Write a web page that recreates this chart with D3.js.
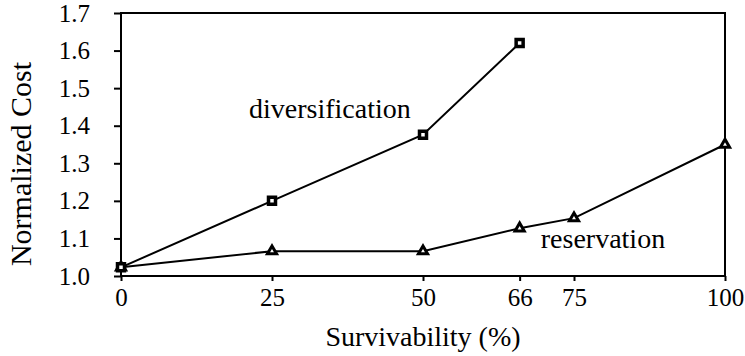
<!DOCTYPE html>
<html>
<head>
<meta charset="utf-8">
<script src="https://cdn.jsdelivr.net/npm/d3@7"></script>
<style>
  body { margin: 0; background: #fff; }
</style>
</head>
<body>
<svg width="745" height="356"></svg>
<script>
const width = 745;
const height = 356;
const margin = { top: 13, right: 20, bottom: 80, left: 121 };

// data
const survivability = [0, 25, 50, 66, 75, 100];
const diversificationX = [0, 25, 50, 66];
const diversificationY = [1.023, 1.2, 1.376, 1.62];
const reservationX = [0, 25, 50, 66, 75, 100];
const reservationY = [1.023, 1.066, 1.066, 1.127, 1.154, 1.35];
const yTicks = [1.0, 1.1, 1.2, 1.3, 1.4, 1.5, 1.6, 1.7];

const font = "Liberation Serif, serif";

const svg = d3.select("svg").attr("font-family", font);

let x = d3
  .scaleLinear()
  .domain([0, 100])
  .range([margin.left, width - margin.right]);

let y = d3
  .scaleLinear()
  .domain([1.0, 1.7])
  .range([height - margin.bottom, margin.top]);

let line = d3
  .line()
  .x(d => x(d[0]))
  .y(d => y(d[1]));

// axes
const xAxis = svg
  .append("g")
  .attr("transform", `translate(0,${height - margin.bottom})`)
  .call(d3.axisBottom(x).tickValues(survivability).tickSize(5).tickPadding(7));

const yAxis = svg
  .append("g")
  .attr("transform", `translate(${margin.left},0)`)
  .call(
    d3.axisLeft(y)
      .tickValues(yTicks)
      .tickFormat(d3.format(".1f"))
      .tickSize(7)
      .tickPadding(24)
  );

[xAxis, yAxis].forEach(g => {
  g.attr("font-family", font).attr("font-size", 25);
  g.select(".domain").remove();
  g.selectAll(".tick line").attr("stroke", "black").attr("stroke-width", 2);
});

// frame
svg.append("rect")
  .attr("x", margin.left)
  .attr("y", margin.top)
  .attr("width", width - margin.left - margin.right)
  .attr("height", height - margin.top - margin.bottom)
  .attr("fill", "none")
  .attr("stroke", "black")
  .attr("stroke-width", 2);

// series
const res = d3.zip(reservationX, reservationY);
const div = d3.zip(diversificationX, diversificationY);

svg.append("path")
  .datum(res)
  .attr("d", line)
  .attr("fill", "none")
  .attr("stroke", "black")
  .attr("stroke-width", 2);

svg.append("path")
  .datum(div)
  .attr("d", line)
  .attr("fill", "none")
  .attr("stroke", "black")
  .attr("stroke-width", 2);

const tri = d3.symbol().type(d3.symbolTriangle).size(36);
svg.selectAll(".tri")
  .data(res)
  .join("path")
  .attr("class", "tri")
  .attr("d", tri)
  .attr("transform", d => `translate(${x(d[0])},${y(d[1])})`)
  .attr("fill", "white")
  .attr("stroke", "black")
  .attr("stroke-width", 3);

const sq = d3.symbol().type(d3.symbolSquare).size(49);
svg.selectAll(".sq")
  .data(div)
  .join("path")
  .attr("class", "sq")
  .attr("d", sq)
  .attr("transform", d => `translate(${x(d[0])},${y(d[1])})`)
  .attr("fill", "white")
  .attr("stroke", "black")
  .attr("stroke-width", 3.5);

// series labels
svg.append("text")
  .attr("x", x(21.2))
  .attr("y", y(1.42))
  .attr("font-size", 28)
  .text("diversification");

svg.append("text")
  .attr("x", x(69.5))
  .attr("y", y(1.075))
  .attr("font-size", 28)
  .text("reservation");

// axis titles
svg.append("text")
  .attr("x", (margin.left + width - margin.right) / 2)
  .attr("y", 346)
  .attr("text-anchor", "middle")
  .attr("font-size", 28)
  .text("Survivability (%)");

svg.append("text")
  .attr("transform", "translate(31,164) rotate(-90)")
  .attr("text-anchor", "middle")
  .attr("font-size", 30)
  .text("Normalized Cost");
</script>
</body>
</html>
